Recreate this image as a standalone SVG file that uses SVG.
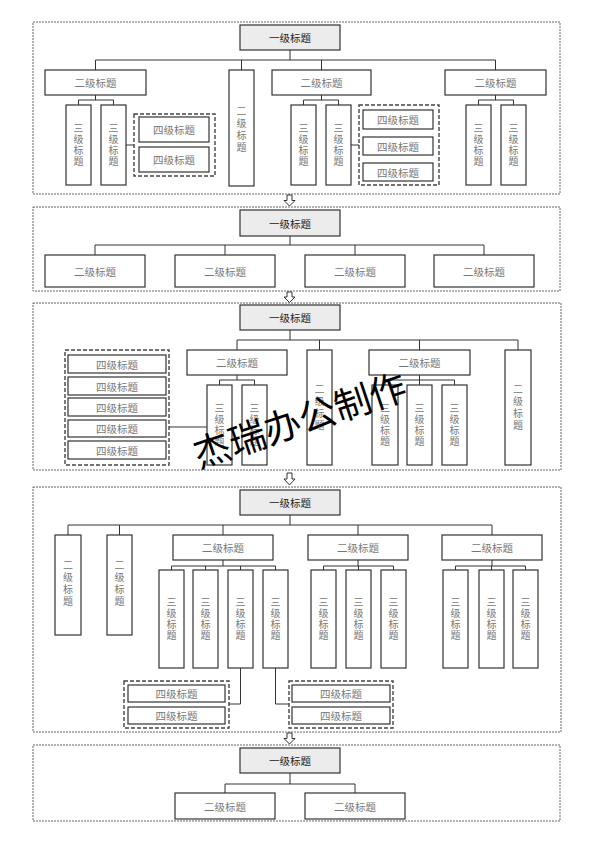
<svg xmlns="http://www.w3.org/2000/svg" width="594" height="841" viewBox="0 0 594 841">
<defs>
<style>
.bg{fill:#ffffff}
.sec{fill:none;stroke:#666;stroke-width:1;stroke-dasharray:2 1}
.grp{fill:none;stroke:#444;stroke-width:1.4;stroke-dasharray:4 2}
.b{fill:#fff;stroke:#333;stroke-width:1.2}
.b1{fill:#ececec;stroke:#333;stroke-width:1.2}
.ln{fill:none;stroke:#333;stroke-width:1}
.arr{fill:#fff;stroke:#333;stroke-width:1}
text{font-family:"Noto Sans CJK SC","Noto Sans CJK JP",sans-serif;font-size:10.5px;text-anchor:middle;dominant-baseline:central}
.t1{fill:#222}
.t{fill:#777}
.v{writing-mode:vertical-rl;text-orientation:upright;font-size:10px;letter-spacing:1px}
.v2{writing-mode:vertical-rl;text-orientation:upright;font-size:10px;letter-spacing:2px}
.wm{font-size:37px;fill:#000}
</style>
</defs>
<rect class="bg" x="0" y="0" width="594" height="841"/>

<!-- Section containers -->
<g id="sections">
<rect class="sec" x="33" y="22" width="527" height="172"/>
<rect class="sec" x="33" y="207" width="527" height="84"/>
<rect class="sec" x="33" y="303" width="528" height="167"/>
<rect class="sec" x="33" y="487" width="528" height="245"/>
<rect class="sec" x="33" y="745" width="527" height="76"/>
</g>

<!-- Connectors -->
<g id="connectors">
<path class="ln" d="M290,50V60M95.5,60H495.5M95.5,60V70M241.5,60V70M321.5,60V70M495.5,60V70"/>
<path class="ln" d="M95.5,95V100M78.5,100H113.5M78.5,100V105M113.5,100V105"/>
<path class="ln" d="M126,145H134"/>
<path class="ln" d="M321.5,95V100M303.5,100H338.5M303.5,100V105M338.5,100V105"/>
<path class="ln" d="M351,145H359"/>
<path class="ln" d="M495.5,95V100M478.5,100H513.5M478.5,100V105M513.5,100V105"/>
<path class="ln" d="M290,236V245M95,245H484M95,245V255M225,245V255M355,245V255M484,245V255"/>
<path class="ln" d="M290,330V340M237,340H518M237,340V350M319.5,340V350M419.5,340V350M518,340V350"/>
<path class="ln" d="M237,375V380M219.5,380H254.5M219.5,380V385M254.5,380V385"/>
<path class="ln" d="M419.5,375V380M385,380H454.5M385,380V385M419.5,380V385M454.5,380V385"/>
<path class="ln" d="M169,427H207"/>
<path class="ln" d="M290,515V525M68,525H492M68,525V535M119.5,525V535M223,525V535M358,525V535M492,525V535"/>
<path class="ln" d="M223,560V566M171.5,566H275.5M171.5,566V570M205.5,566V570M240.5,566V570M275.5,566V570"/>
<path class="ln" d="M358,560V566M323.5,566H393.5M323.5,566V570M358.5,566V570M393.5,566V570"/>
<path class="ln" d="M492,560V566M455.5,566H525.5M455.5,566V570M491.5,566V570M525.5,566V570"/>
<path class="ln" d="M240.5,668V704H229"/>
<path class="ln" d="M275.5,668V704H289"/>
<path class="ln" d="M290,773V784M225,784H355M225,784V793M355,784V793"/>
<path class="arr" d="M287,195h5v5.5h3l-5.5,5.5l-5.5,-5.5h3z"/>
<path class="arr" d="M287,292h5v5h3l-5.5,5.5l-5.5,-5.5h3z"/>
<path class="arr" d="M287,473h5v6h3l-5.5,6l-5.5,-6h3z"/>
<path class="arr" d="M287,733h5v5.5h3l-5.5,5.5l-5.5,-5.5h3z"/>
</g>

<!-- ===== Section 1 ===== -->
<g id="s1-top"><rect class="b1" x="240" y="25" width="100" height="25"/><text class="t1" x="290" y="37.5">一级标题</text></g>
<g id="s1-l2a"><rect class="b" x="45" y="70" width="101" height="25"/><text class="t" x="95.5" y="82.5">二级标题</text></g>
<g id="s1-l2b"><rect class="b" x="229" y="70" width="25" height="116"/><text class="t v2" x="241.5" y="130">二级标题</text></g>
<g id="s1-l2c"><rect class="b" x="272" y="70" width="99" height="25"/><text class="t" x="321.5" y="82.5">二级标题</text></g>
<g id="s1-l2d"><rect class="b" x="445" y="70" width="101" height="25"/><text class="t" x="495.5" y="82.5">二级标题</text></g>

<g id="s1-l3a1"><rect class="b" x="66" y="105" width="25" height="80"/><text class="t v" x="78.5" y="145">三级标题</text></g>
<g id="s1-l3a2"><rect class="b" x="101" y="105" width="25" height="80"/><text class="t v" x="113.5" y="145">三级标题</text></g>
<g id="s1-g4a">
<rect class="grp" x="134" y="114" width="81" height="62"/>
<rect class="b" x="139" y="117" width="70" height="25"/><text class="t" x="174" y="129.5">四级标题</text>
<rect class="b" x="139" y="147" width="70" height="25"/><text class="t" x="174" y="159.5">四级标题</text>
</g>

<g id="s1-l3c1"><rect class="b" x="291" y="105" width="25" height="80"/><text class="t v" x="303.5" y="145">三级标题</text></g>
<g id="s1-l3c2"><rect class="b" x="326" y="105" width="25" height="80"/><text class="t v" x="338.5" y="145">三级标题</text></g>
<g id="s1-g4c">
<rect class="grp" x="359" y="105" width="80" height="80"/>
<rect class="b" x="363" y="110" width="70" height="19"/><text class="t" x="398" y="119.5">四级标题</text>
<rect class="b" x="363" y="137" width="70" height="18"/><text class="t" x="398" y="146">四级标题</text>
<rect class="b" x="363" y="163" width="70" height="18"/><text class="t" x="398" y="172">四级标题</text>
</g>

<g id="s1-l3d1"><rect class="b" x="466" y="105" width="25" height="80"/><text class="t v" x="478.5" y="145">三级标题</text></g>
<g id="s1-l3d2"><rect class="b" x="501" y="105" width="25" height="80"/><text class="t v" x="513.5" y="145">三级标题</text></g>

<!-- ===== Section 2 ===== -->
<g id="s2-top"><rect class="b1" x="240" y="210" width="100" height="26"/><text class="t1" x="290" y="223">一级标题</text></g>
<g id="s2-a"><rect class="b" x="45" y="255" width="100" height="32"/><text class="t" x="95" y="271">二级标题</text></g>
<g id="s2-b"><rect class="b" x="175" y="255" width="100" height="32"/><text class="t" x="225" y="271">二级标题</text></g>
<g id="s2-c"><rect class="b" x="305" y="255" width="100" height="32"/><text class="t" x="355" y="271">二级标题</text></g>
<g id="s2-d"><rect class="b" x="434" y="255" width="100" height="32"/><text class="t" x="484" y="271">二级标题</text></g>

<!-- ===== Section 3 ===== -->
<g id="s3-top"><rect class="b1" x="240" y="305" width="100" height="25"/><text class="t1" x="290" y="317.5">一级标题</text></g>
<g id="s3-a"><rect class="b" x="187" y="350" width="100" height="25"/><text class="t" x="237" y="362.5">二级标题</text></g>
<g id="s3-v1"><rect class="b" x="307" y="350" width="25" height="115"/><text class="t v2" x="319.5" y="408">二级标题</text></g>
<g id="s3-b"><rect class="b" x="369" y="350" width="101" height="25"/><text class="t" x="419.5" y="362.5">二级标题</text></g>
<g id="s3-v2"><rect class="b" x="505" y="350" width="26" height="115"/><text class="t v2" x="518" y="408">二级标题</text></g>

<g id="s3-a1"><rect class="b" x="207" y="385" width="25" height="80"/><text class="t v" x="219.5" y="425">三级标题</text></g>
<g id="s3-a2"><rect class="b" x="242" y="385" width="25" height="80"/><text class="t v" x="254.5" y="425">三级标题</text></g>
<g id="s3-b1"><rect class="b" x="372" y="385" width="26" height="80"/><text class="t v" x="385" y="425">三级标题</text></g>
<g id="s3-b2"><rect class="b" x="407" y="385" width="25" height="80"/><text class="t v" x="419.5" y="425">三级标题</text></g>
<g id="s3-b3"><rect class="b" x="442" y="385" width="25" height="80"/><text class="t v" x="454.5" y="425">三级标题</text></g>

<g id="s3-g4">
<rect class="grp" x="65" y="350" width="104" height="115"/>
<rect class="b" x="68" y="355" width="98" height="18"/><text class="t" x="117" y="364">四级标题</text>
<rect class="b" x="68" y="377" width="98" height="18"/><text class="t" x="117" y="386">四级标题</text>
<rect class="b" x="68" y="398" width="98" height="18"/><text class="t" x="117" y="407">四级标题</text>
<rect class="b" x="68" y="420" width="98" height="17"/><text class="t" x="117" y="428.5">四级标题</text>
<rect class="b" x="68" y="441" width="98" height="18"/><text class="t" x="117" y="450">四级标题</text>
</g>

<!-- ===== Section 4 ===== -->
<g id="s4-top"><rect class="b1" x="240" y="490" width="100" height="25"/><text class="t1" x="290" y="502.5">一级标题</text></g>
<g id="s4-v1"><rect class="b" x="55" y="535" width="26" height="100"/><text class="t v2" x="68" y="584">二级标题</text></g>
<g id="s4-v2"><rect class="b" x="107" y="535" width="25" height="100"/><text class="t v2" x="119.5" y="584">二级标题</text></g>
<g id="s4-a"><rect class="b" x="173" y="535" width="100" height="25"/><text class="t" x="223" y="547.5">二级标题</text></g>
<g id="s4-b"><rect class="b" x="308" y="535" width="100" height="25"/><text class="t" x="358" y="547.5">二级标题</text></g>
<g id="s4-c"><rect class="b" x="442" y="535" width="100" height="25"/><text class="t" x="492" y="547.5">二级标题</text></g>

<g id="s4-a1"><rect class="b" x="159" y="570" width="25" height="98"/><text class="t v" x="171.5" y="619">三级标题</text></g>
<g id="s4-a2"><rect class="b" x="193" y="570" width="25" height="98"/><text class="t v" x="205.5" y="619">三级标题</text></g>
<g id="s4-a3"><rect class="b" x="228" y="570" width="25" height="98"/><text class="t v" x="240.5" y="619">三级标题</text></g>
<g id="s4-a4"><rect class="b" x="263" y="570" width="25" height="98"/><text class="t v" x="275.5" y="619">三级标题</text></g>
<g id="s4-b1"><rect class="b" x="311" y="570" width="25" height="98"/><text class="t v" x="323.5" y="619">三级标题</text></g>
<g id="s4-b2"><rect class="b" x="346" y="570" width="25" height="98"/><text class="t v" x="358.5" y="619">三级标题</text></g>
<g id="s4-b3"><rect class="b" x="381" y="570" width="25" height="98"/><text class="t v" x="393.5" y="619">三级标题</text></g>
<g id="s4-c1"><rect class="b" x="443" y="570" width="25" height="98"/><text class="t v" x="455.5" y="619">三级标题</text></g>
<g id="s4-c2"><rect class="b" x="479" y="570" width="25" height="98"/><text class="t v" x="491.5" y="619">三级标题</text></g>
<g id="s4-c3"><rect class="b" x="513" y="570" width="25" height="98"/><text class="t v" x="525.5" y="619">三级标题</text></g>

<g id="s4-g4a">
<rect class="grp" x="124" y="681" width="105" height="47"/>
<rect class="b" x="128" y="685" width="97" height="17"/><text class="t" x="176.5" y="693.5">四级标题</text>
<rect class="b" x="128" y="707" width="97" height="17"/><text class="t" x="176.5" y="715.5">四级标题</text>
</g>
<g id="s4-g4b">
<rect class="grp" x="289" y="681" width="104" height="47"/>
<rect class="b" x="292" y="685" width="98" height="17"/><text class="t" x="341" y="693.5">四级标题</text>
<rect class="b" x="292" y="707" width="98" height="17"/><text class="t" x="341" y="715.5">四级标题</text>
</g>

<!-- ===== Section 5 ===== -->
<g id="s5-top"><rect class="b1" x="240" y="748" width="100" height="25"/><text class="t1" x="290" y="760.5">一级标题</text></g>
<g id="s5-a"><rect class="b" x="175" y="793" width="100" height="26"/><text class="t" x="225" y="806">二级标题</text></g>
<g id="s5-b"><rect class="b" x="305" y="793" width="100" height="26"/><text class="t" x="355" y="806">二级标题</text></g>

<!-- watermark -->
<text class="wm" x="299" y="418" transform="rotate(-18.5 299 418)">杰瑞办公制作</text>
</svg>
